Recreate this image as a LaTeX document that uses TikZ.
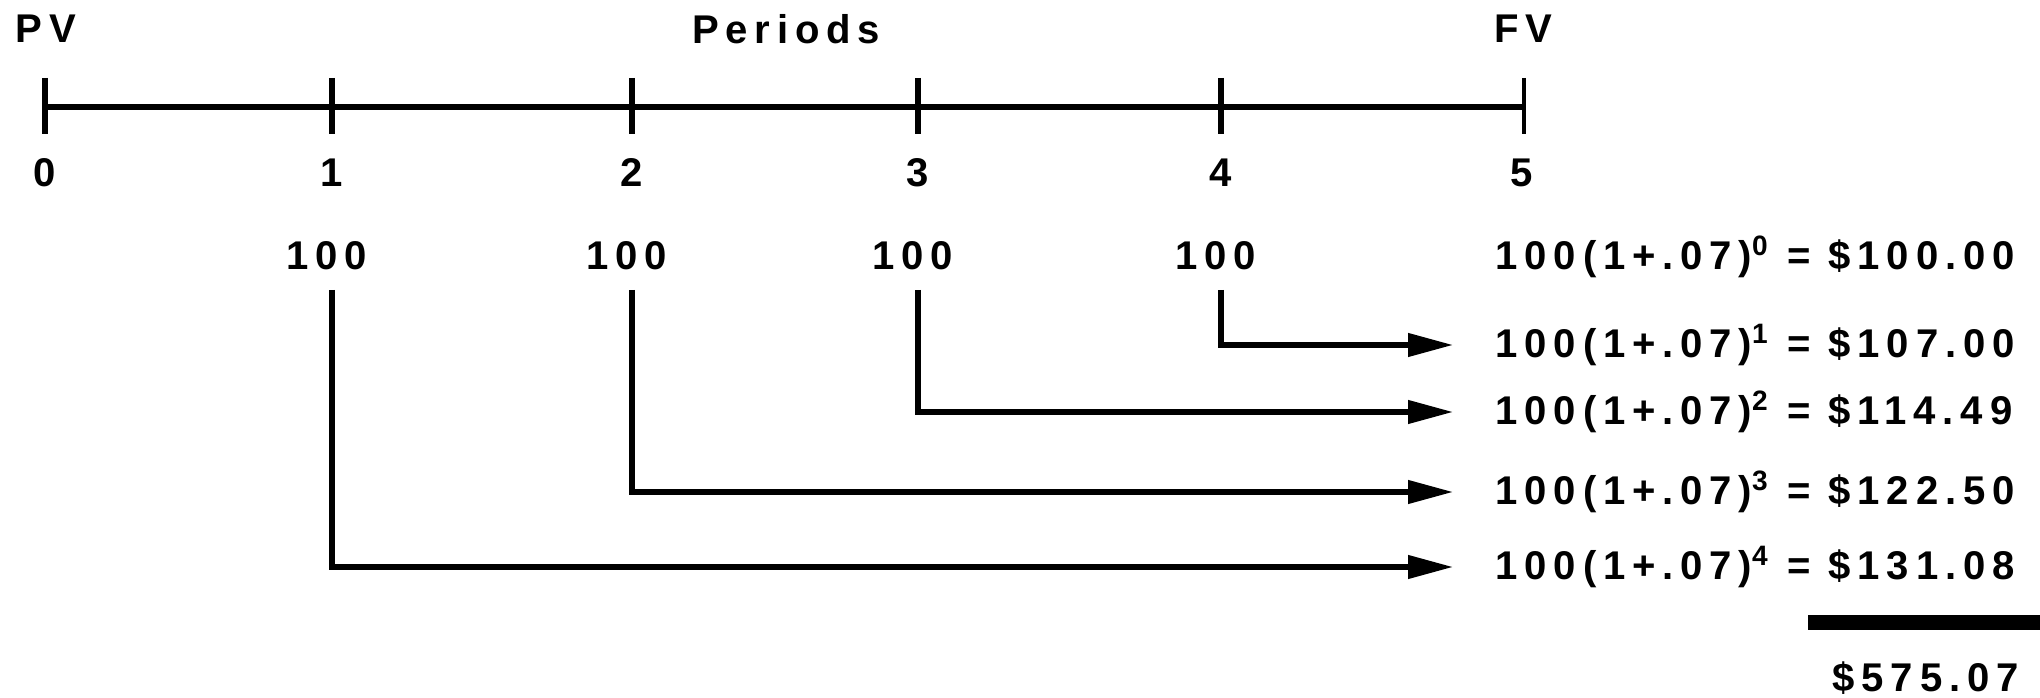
\documentclass[tikz,border=0pt]{standalone}
\usepackage{fontspec}
\setmainfont{Liberation Sans}[LetterSpace=17]
\usetikzlibrary{arrows.meta}
\tikzset{
  lbl/.style={inner sep=0pt,font=\fontsize{11.4}{13}\selectfont\bfseries},
  flow/.style={line width=1.6pt,-{Triangle[length=12.8pt,width=6.4pt]}}
}
\begin{document}
\begin{tikzpicture}[x=0.01cm,y=-0.01cm]%1 unit = 1 px
		\useasboundingbox (0,0) rectangle (2040,698);
		\node[lbl] (pv) at (46,29) {PV};
		\node[lbl] (per) at (786,29) {Periods};
		\node[lbl] (fv) at (1523,29) {FV};
		% time line
		\coordinate (t0) at (45,107);
		\coordinate (t5) at (1524,107);
		\draw[line width=1.45pt] (t0)--(t5);
		\foreach \i/\x in {0/45,1/332,2/632,3/918,4/1221}
		{\draw[line width=1.5pt] (\x,78)--(\x,134);
		\node[lbl,anchor=base] (n\i) at (\x,187) {\i};}
		\draw[line width=0.9pt] (1524,78)--(1524,134);
		\node[lbl,anchor=base] (n5) at (1522,187) {5};
		% payments
		\foreach \i/\x in {1/332,2/632,3/918,4/1221}
		\node[lbl] (c\i) at (\x-5,256) {100};
		% future values
		\node[lbl,anchor=west] (r0) at (1495,257) {100(1+.07)\textsuperscript{0} = \$100.00};
		\node[lbl,anchor=west] (r1) at (1495,345) {100(1+.07)\textsuperscript{1} = \$107.00};
		\node[lbl,anchor=west] (r2) at (1495,412) {100(1+.07)\textsuperscript{2} = \$114.49};
		\node[lbl,anchor=west] (r3) at (1495,492) {100(1+.07)\textsuperscript{3} = \$122.50};
		\node[lbl,anchor=west] (r4) at (1495,567) {100(1+.07)\textsuperscript{4} = \$131.08};
		\foreach \i/\j in {4/1,3/2,2/3,1/4}
		\draw[flow] ([xshift=1.4pt,yshift=-5.4pt]c\i.south) |- ([xshift=-11.9pt]r\j.west);
		% total
		\fill (1808,615) rectangle (2040,630);
		\node[lbl,anchor=west] (tot) at (1832,678) {\$575.07};
		\end{tikzpicture}
\end{document}
